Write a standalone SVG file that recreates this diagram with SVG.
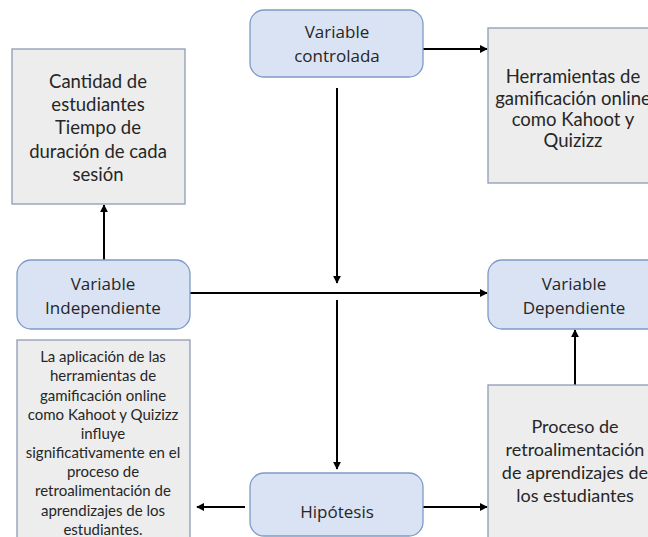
<svg xmlns="http://www.w3.org/2000/svg" width="648" height="537" viewBox="0 0 648 537">
<defs>
<style>
.blue{fill:#DAE3F3;stroke:#7F9AC6;stroke-width:1.3}
.grey{fill:#EDEDED;stroke:#8C9BB3;stroke-width:1.3}
.t{font-family:"Open Sans","Liberation Sans",sans-serif;font-size:17px;fill:#262626;text-anchor:middle}
.g{font-family:Lato,"Liberation Sans",sans-serif;font-size:18.5px;fill:#262626;text-anchor:middle}
.p{font-family:Lato,"Liberation Sans",sans-serif;font-size:18px;fill:#262626;text-anchor:middle}
.h{font-family:Lato,"Liberation Sans",sans-serif;font-size:15px;fill:#262626;text-anchor:middle}
.c{stroke:#000;stroke-width:2;fill:none}
</style>
<marker id="ah" viewBox="0 0 10 10" refX="9" refY="5" markerWidth="4" markerHeight="4" orient="auto" markerUnits="strokeWidth">
<path d="M0,0 L10,5 L0,10 z" fill="#000"/>
</marker>
</defs>
<rect width="648" height="537" fill="#fff"/>
<g id="connectors">
<line class="c" x1="423" y1="49" x2="487" y2="49" marker-end="url(#ah)"/>
<line class="c" x1="104" y1="260" x2="104" y2="205" marker-end="url(#ah)"/>
<line class="c" x1="190" y1="293" x2="487" y2="293" marker-end="url(#ah)"/>
<line class="c" x1="337" y1="88" x2="337" y2="283" marker-end="url(#ah)"/>
<line class="c" x1="337" y1="300" x2="337" y2="469" marker-end="url(#ah)"/>
<line class="c" x1="575" y1="385" x2="575" y2="330" marker-end="url(#ah)"/>
<line class="c" x1="423" y1="507" x2="487" y2="507" marker-end="url(#ah)"/>
<line class="c" x1="245" y1="507" x2="197" y2="507" marker-end="url(#ah)"/>
</g>
<g id="controlada">
<rect class="blue" x="250" y="10" width="173" height="67" rx="14"/>
<text class="t" x="337" y="38">Variable</text>
<text class="t" x="337" y="62">controlada</text>
</g>
<g id="herramientas">
<rect class="grey" x="488" y="28" width="180" height="155"/>
<text class="g" x="573" y="83">Herramientas de</text>
<text class="g" x="573" y="104.5">gamificación online</text>
<text class="g" x="573" y="126">como Kahoot y</text>
<text class="g" x="573" y="147">Quizizz</text>
</g>
<g id="cantidad">
<rect class="grey" x="12" y="49" width="173" height="155"/>
<text class="g" x="98" y="88">Cantidad de</text>
<text class="g" x="98" y="111">estudiantes</text>
<text class="g" x="98" y="134">Tiempo de</text>
<text class="g" x="98" y="158">duración de cada</text>
<text class="g" x="98" y="181">sesión</text>
</g>
<g id="independiente">
<rect class="blue" x="17" y="260" width="173" height="69" rx="14"/>
<text class="t" x="103" y="290">Variable</text>
<text class="t" x="103" y="314">Independiente</text>
</g>
<g id="dependiente">
<rect class="blue" x="488" y="260" width="180" height="69" rx="14"/>
<text class="t" x="574" y="290">Variable</text>
<text class="t" x="574" y="314">Dependiente</text>
</g>
<g id="hipotesis-texto">
<rect class="grey" x="17" y="340" width="173" height="210"/>
<text class="h" x="103" y="362">La aplicación de las</text>
<text class="h" x="103" y="381">herramientas de</text>
<text class="h" x="103" y="400.5">gamificación online</text>
<text class="h" x="103" y="420">como Kahoot y Quizizz</text>
<text class="h" x="103" y="439">influye</text>
<text class="h" x="103" y="458">significativamente en el</text>
<text class="h" x="103" y="477">proceso de</text>
<text class="h" x="103" y="496">retroalimentación de</text>
<text class="h" x="103" y="515.5">aprendizajes de los</text>
<text class="h" x="103" y="534.5">estudiantes.</text>
</g>
<g id="proceso">
<rect class="grey" x="488" y="385" width="180" height="170"/>
<text class="p" x="575" y="433">Proceso de</text>
<text class="p" x="575" y="456">retroalimentación</text>
<text class="p" x="575" y="479">de aprendizajes de</text>
<text class="p" x="575" y="502">los estudiantes</text>
</g>
<g id="hipotesis">
<rect class="blue" x="250" y="473" width="173" height="63" rx="14"/>
<text class="t" x="337" y="518">Hipótesis</text>
</g>
</svg>
